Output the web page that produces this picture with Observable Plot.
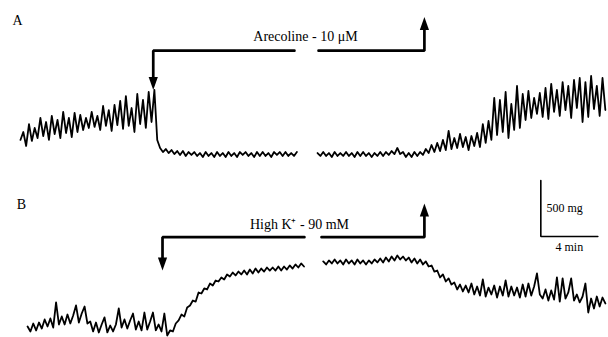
<!DOCTYPE html>
<html><head><meta charset="utf-8">
<script src="https://cdn.jsdelivr.net/npm/d3@7"></script>
<script src="https://cdn.jsdelivr.net/npm/@observablehq/plot@0.6"></script>
<style>
html,body{margin:0;padding:0;background:#fff;}
#chart svg{display:block;background:#fff;}
</style></head><body><div id="chart"></div>
<script>
const sampleStep = 0.2; // minutes between samples

// Panel A : Arecoline 10 µM
const traceA1Start = 1.4;
const traceA1 = [255,326,201,397,246,362,272,451,290,415,
  255,469,308,433,272,505,317,451,281,496,
  326,478,344,451,362,505,371,469,344,558,
  380,522,335,567,388,603,353,647,380,540,
  326,665,397,612,362,683,415,701,255,183,
  147,174,138,165,129,156,121,156,112,147,
  121,147,112,138,103,147,112,138,103,147,
  112,138,103,147,112,138,103,147,121,147,
  112,138,103,147,112,147,112,138,103,147,
  121,147,112,147,112,138,112,147];
const traceA2Start = 22.25;
const traceA2 = [138,112,147,112,138,103,147,112,138,112,
  147,112,138,103,147,112,147,112,138,103,
  138,112,147,112,147,121,156,129,183,129,
  147,103,138,103,147,112,147,121,174,138,
  210,147,228,156,255,165,335,174,272,183,
  308,192,281,165,290,201,317,192,397,228,
  424,255,630,299,612,326,683,272,576,344,
  737,362,665,433,692,451,630,487,674,460,
  719,442,755,505,701,469,772,522,737,451,
  790,540,808,415,772,460,826,531,737,469,
  808,522];

// Panel B : High K+ 90 mM
const traceB1Start = 1.9;
const traceB1 = [98,54,125,63,134,80,161,98,170,89,
  313,116,188,116,205,125,196,286,134,214,
  277,125,143,54,134,45,116,179,45,107,
  54,116,259,89,161,80,152,214,71,143,
  63,223,71,143,223,63,116,54,214,18,
  63,54,125,152,205,188,268,286,330,321,
  402,393,438,429,482,464,509,500,536,518,
  563,545,580,554,589,563,598,563,607,572,
  616,580,616,589,625,598,625,598,634,598,
  634,607,643,616,652,625,661,634];
const traceB2Start = 22.65;
const traceB2 = [679,652,688,661,697,661,688,652,697,661,
  688,652,697,661,688,652,688,661,697,670,
  705,670,714,679,723,688,732,697,723,688,
  714,670,705,661,697,652,679,634,643,589,
  598,536,563,500,527,473,491,429,473,411,
  464,402,482,384,455,375,518,366,446,384,
  464,357,455,375,509,366,455,375,446,357,
  473,366,482,375,455,572,384,348,429,330,
  420,339,536,321,527,348,402,527,330,384,
  313,366,482,223,348,259,366,277,357,304];

// ---- drug application markers (minutes / mg) ----
const panelNames = ["A", "B"];
const drugLabels = ["Arecoline - 10 \u03BCM", "High K\u207A - 90 mM"];
const drugOn = [10.72, 11.37];      // application (down arrow)
const drugOff = [29.75, 29.75];     // washout (up arrow)
const breakStart = [20.63, 21.33];  // recording break
const breakEnd = [22.32, 22.53];
const arrowLevel = [1052, 896];
const onTip = [701, 598];
const offTip = [1353, 1197];
const drugLabelT = [21.4, 20.98];
const drugLabelMg = [1178, 1011];
const panelLetterT = [1.19, 1.47];
const panelLetterMg = [1319, 1189];

// ---- calibration bar ----
const scaleBarT = 37.92, scaleBarMg = 902;
const scaleBarMinutes = 4, scaleBarAmount = 500;
const scaleBarLabels = ["500 mg", "4 min"];

// ---- helpers ----
const serif = "'Liberation Serif', 'Times New Roman', serif";
function series(start, values, seg) {
  return values.map((v, i) => ({t: start + i * sampleStep, mg: v, seg}));
}
const headDown = {draw(ctx) { ctx.moveTo(0, 0); ctx.lineTo(-4.6, -13); ctx.lineTo(4.6, -13); ctx.closePath(); }};
const headUp = {draw(ctx) { ctx.moveTo(0, 0); ctx.lineTo(-4.6, 13); ctx.lineTo(4.6, 13); ctx.closePath(); }};

function panel(k, traces, height, yMax, extra = []) {
  const arrowPath = [
    {t: breakStart[k], mg: arrowLevel[k], part: "on"},
    {t: drugOn[k], mg: arrowLevel[k], part: "on"},
    {t: drugOn[k], mg: onTip[k] + 50, part: "on"},
    {t: breakEnd[k], mg: arrowLevel[k], part: "off"},
    {t: drugOff[k], mg: arrowLevel[k], part: "off"},
    {t: drugOff[k], mg: offTip[k] - 50, part: "off"}
  ];
  return Plot.plot({
    width: 608, height, margin: 0,
    x: {domain: [0, 42.67], axis: null},
    y: {domain: [0, yMax], axis: null},
    marks: [
      Plot.line(traces, {x: "t", y: "mg", z: "seg", stroke: "#000", strokeWidth: 1.8, strokeLinejoin: "round"}),
      Plot.line(arrowPath, {x: "t", y: "mg", z: "part", stroke: "#000", strokeWidth: 2.7, strokeLinejoin: "miter"}),
      Plot.dot([{t: drugOn[k], mg: onTip[k]}], {x: "t", y: "mg", symbol: headDown, fill: "#000", stroke: "none"}),
      Plot.dot([{t: drugOff[k], mg: offTip[k]}], {x: "t", y: "mg", symbol: headUp, fill: "#000", stroke: "none"}),
      Plot.text([{t: drugLabelT[k], mg: drugLabelMg[k], s: drugLabels[k]}], {x: "t", y: "mg", text: "s", fontFamily: serif, fontSize: 14, fill: "#000"}),
      Plot.text([{t: panelLetterT[k], mg: panelLetterMg[k], s: panelNames[k]}], {x: "t", y: "mg", text: "s", fontFamily: serif, fontSize: 14, fill: "#000"}),
      ...extra
    ]
  });
}

const chart = document.getElementById("chart");
chart.append(panel(0, [...series(traceA1Start, traceA1, "a1"), ...series(traceA2Start, traceA2, "a2")], 168, 1500));

const scaleBar = [
  {t: scaleBarT, mg: scaleBarMg + scaleBarAmount},
  {t: scaleBarT, mg: scaleBarMg},
  {t: scaleBarT + scaleBarMinutes, mg: scaleBarMg}
];
chart.append(panel(1, [...series(traceB1Start, traceB1, "b1"), ...series(traceB2Start, traceB2, "b2")], 169, 1509, [
  Plot.line(scaleBar, {x: "t", y: "mg", stroke: "#000", strokeWidth: 1.6, strokeLinejoin: "miter"}),
  Plot.text([{t: scaleBarT + 0.4, mg: 1159, s: scaleBarLabels[0]}], {x: "t", y: "mg", text: "s", textAnchor: "start", fontFamily: serif, fontSize: 12, fill: "#000"}),
  Plot.text([{t: scaleBarT + scaleBarMinutes / 2, mg: 806, s: scaleBarLabels[1]}], {x: "t", y: "mg", text: "s", fontFamily: serif, fontSize: 12, fill: "#000"})
]));
</script></body></html>
